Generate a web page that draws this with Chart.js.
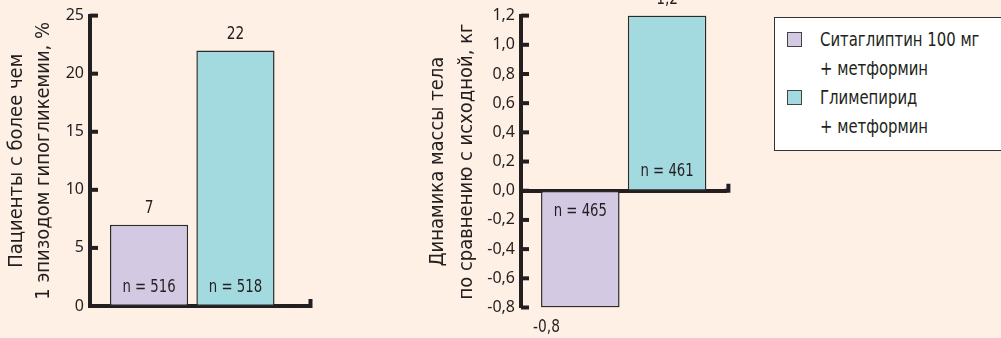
<!DOCTYPE html>
<html>
<head>
<meta charset="utf-8">
<script src="https://cdn.jsdelivr.net/npm/chart.js@4/dist/chart.umd.min.js"></script>
<style>
  body { margin: 0; background: #FEF0E4; width: 1001px; height: 338px; overflow: hidden; position: relative; }
  canvas { position: absolute; top: 0; }
  #hypo { left: 0; }
  #weight { left: 340px; }
  #legend {
    position: absolute; left: 774px; top: 17px; width: 240px; height: 134px;
    border: 1px solid #333; background: #fff; box-sizing: border-box;
    font-family: "DejaVu Sans Condensed", "DejaVu Sans", sans-serif;
    font-size: 19px; color: #231F20;
  }
  .item { position: relative; padding-left: 45px; line-height: 29px; }
  .item:first-child { margin-top: 7px; }
  .item div span { display: inline-block; transform: scaleX(0.87); transform-origin: left center; white-space: nowrap; }
  .swatch { position: absolute; left: 12px; top: 7px; width: 15px; height: 15px; box-sizing: border-box; border: 1.5px solid #444; }
</style>
</head>
<body>
<canvas id="hypo" width="340" height="338"></canvas>
<canvas id="weight" width="420" height="338"></canvas>
<div id="legend"></div>
<script>
// series (both charts share them)
const seriesLines = [['Ситаглиптин 100 мг', '+ метформин'], ['Глимепирид', '+ метформин']];
const seriesColors = ['#D3C9E2', '#A3DADF'];

// left chart: patients with >1 hypoglycaemia episode, %
const hypoValues = [7, 22];
const hypoN = [516, 518];
const hypoTitle = ['Пациенты с более чем', '1 эпизодом гипогликемии, %'];

// right chart: body weight change, kg
const weightValues = [-0.8, 1.2];
const weightN = [465, 461];
const weightTitle = ['Динамика массы тела', 'по сравнению с исходной, кг'];

const AXIS_COLOR = '#231F20';
const AXIS_WIDTH = 4;
const NARROW = '"DejaVu Sans Condensed", "DejaVu Sans", sans-serif';
const comma = v => v.toFixed(1).replace('.', ',');

// condensed-looking text: squeeze horizontally
function narrowText(ctx, text, x, y, size, sx) {
    ctx.save();
    ctx.translate(x, y);
    ctx.scale(sx, 1);
    ctx.font = size + 'px ' + NARROW;
    ctx.fillText(text, 0, 0);
    ctx.restore();
}

// inward ticks, extended x axis with end cap, value and n labels
const decorPlugin = {
    id: 'decor',
    afterDraw(chart, args, o) {
        const {ctx, chartArea} = chart;
        const y = chart.scales.y;
        ctx.save();
        ctx.strokeStyle = AXIS_COLOR;
        ctx.lineWidth = AXIS_WIDTH;
        y.ticks.forEach(t => {
            const py = y.getPixelForValue(t.value);
            ctx.beginPath();
            ctx.moveTo(chartArea.left, py);
            ctx.lineTo(chartArea.left + 8, py);
            ctx.stroke();
        });
        const py0 = y.getPixelForValue(0);
        const xEnd = chartArea.right + o.extend;
        ctx.beginPath();
        ctx.moveTo(chartArea.right - 2, py0);
        ctx.lineTo(xEnd, py0);
        ctx.lineTo(xEnd, py0 - 7);
        ctx.stroke();

        ctx.fillStyle = AXIS_COLOR;
        ctx.textAlign = 'center';
        ctx.textBaseline = 'middle';
        chart.data.datasets.forEach((ds, i) => {
            const bar = chart.getDatasetMeta(i).data[0];
            const v = ds.data[0];
            if (v >= 0) {
                narrowText(ctx, o.fmt(v), bar.x, bar.y - 16, 18, 0.85);
            } else {
                narrowText(ctx, o.fmt(v), bar.x - bar.width * 0.43, bar.y + 20, 18, 0.85);
            }
            const ny = v >= 0 ? bar.base - 19 : bar.base + 21;
            narrowText(ctx, 'n = ' + o.nValues[i], bar.x, ny, 18, 0.82);
        });
        ctx.restore();
    }
};

function makeChart(id, values, nValues, title, cfg) {
    return new Chart(document.getElementById(id), {
        type: 'bar',
        data: {
            labels: [''],
            datasets: values.map((v, i) => ({
                data: [v],
                backgroundColor: seriesColors[i],
                borderColor: '#2B2B2B',
                borderWidth: 1.5,
                borderSkipped: false,
                categoryPercentage: 0.845,
                barPercentage: 0.905
            }))
        },
        options: {
            responsive: false,
            animation: false,
            layout: { padding: cfg.padding },
            plugins: {
                legend: { display: false },
                tooltip: { enabled: false },
                decor: { extend: cfg.extend, fmt: cfg.fmt, nValues: nValues }
            },
            scales: {
                x: {
                    position: { y: 0 },
                    ticks: { display: false },
                    grid: { display: false },
                    border: { display: true, color: AXIS_COLOR, width: AXIS_WIDTH },
                    afterFit: s => { s.height = 0; }
                },
                y: {
                    min: cfg.min,
                    max: cfg.max,
                    afterFit: s => { s.width = cfg.axisWidth; },
                    ticks: {
                        stepSize: cfg.step,
                        padding: 6,
                        color: AXIS_COLOR,
                        font: { family: '"Noto Sans", sans-serif', size: 16 },
                        callback: cfg.tickFmt
                    },
                    grid: { display: false, drawTicks: false },
                    border: { display: true, color: AXIS_COLOR, width: AXIS_WIDTH },
                    title: {
                        display: true,
                        text: title,
                        color: AXIS_COLOR,
                        padding: { top: cfg.titlePad, bottom: 0 },
                        font: { family: NARROW, size: 20, lineHeight: cfg.titleLine }
                    }
                }
            }
        },
        plugins: [decorPlugin]
    });
}

makeChart('hypo', hypoValues, hypoN, hypoTitle, {
    min: 0, max: 25, step: 5,
    tickFmt: v => String(v),
    fmt: v => String(v),
    axisWidth: 90,
    padding: { top: 13, bottom: 32, left: 0, right: 45.5 },
    extend: 16,
    titlePad: 3.5,
    titleLine: 1.35
});

makeChart('weight', weightValues, weightN, weightTitle, {
    min: -0.8, max: 1.2, step: 0.2,
    tickFmt: v => comma(v),
    fmt: v => comma(v),
    axisWidth: 181,
    padding: { top: 15, bottom: 30.5, left: 0, right: 33.6 },
    extend: 2,
    titlePad: 83,
    titleLine: 1.475
});

// legend
const legend = document.getElementById('legend');
seriesLines.forEach((lines, i) => {
    const item = document.createElement('div');
    item.className = 'item';
    const sw = document.createElement('span');
    sw.className = 'swatch';
    sw.style.background = seriesColors[i];
    item.appendChild(sw);
    lines.forEach(t => {
        const line = document.createElement('div');
        const txt = document.createElement('span');
        txt.textContent = t;
        line.appendChild(txt);
        item.appendChild(line);
    });
    legend.appendChild(item);
});
</script>
</body>
</html>
